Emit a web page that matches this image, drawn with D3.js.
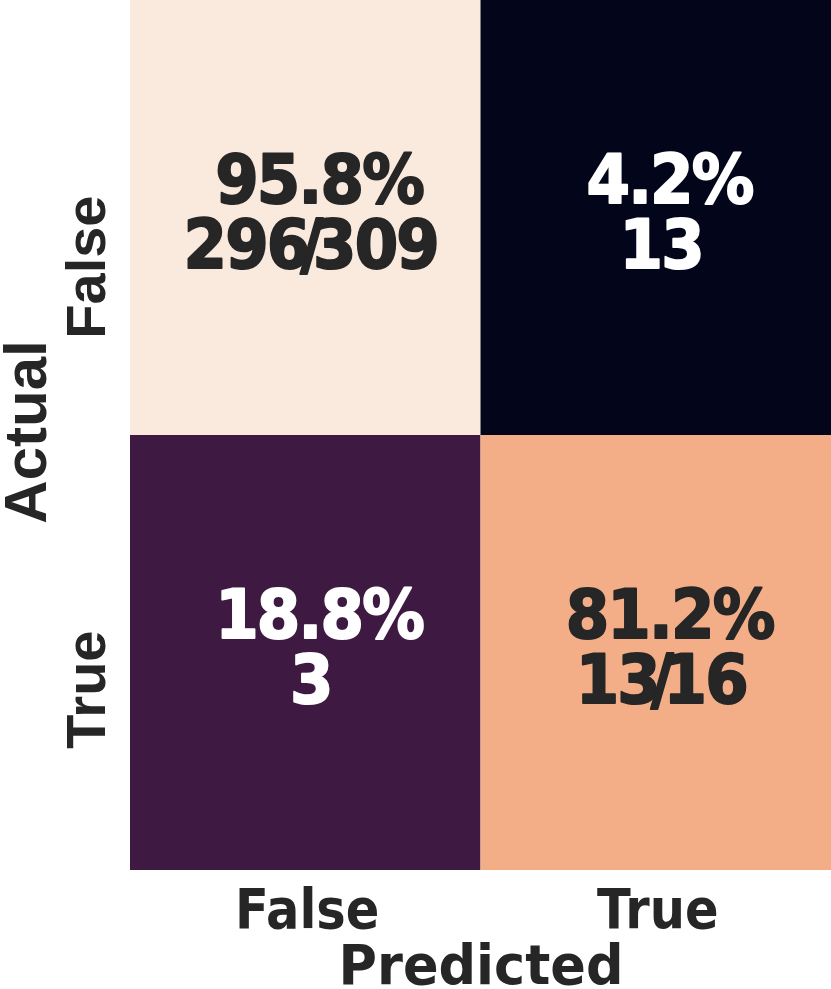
<!DOCTYPE html>
<html>
<head>
<meta charset="utf-8">
<script src="https://cdn.jsdelivr.net/npm/d3@7"></script>
<style>
  html, body { margin: 0; padding: 0; background: #ffffff; }
  svg { display: block; }
</style>
</head>
<body>
<svg id="chart" width="831" height="989"></svg>
<script>
// ---- data ----
const predictedLabels = ["False", "True"];
const actualLabels = ["False", "True"];
const counts = [[296, 13], [3, 13]];          // rows: actual, cols: predicted
const rowTotals = [309, 16];
const percentLabels = [["95.8%", "4.2%"], ["18.8%", "81.2%"]];
const countLabels = [["296/309", "13"], ["3", "13/16"]];

// ---- layout ----
const W = 831, H = 989;
const margin = { left: 130, top: 0, right: 0, bottom: 119 };
const svg = d3.select("#chart");

const x = d3.scaleBand().domain(predictedLabels).range([margin.left, W - margin.right]).padding(0);
const y = d3.scaleBand().domain(actualLabels).range([margin.top, H - margin.bottom]).padding(0);

const color = d3.scaleLinear()
  .domain([0.042, 0.188, 0.812, 0.958])
  .range(["#03051a", "#3e1a42", "#f3ae87", "#faeadd"]);

const cells = [];
actualLabels.forEach((a, i) => {
  predictedLabels.forEach((p, j) => {
    cells.push({ a, p, i, j, frac: counts[i][j] / rowTotals[i] });
  });
});

svg.append("g").selectAll("rect").data(cells).join("rect")
  .attr("x", d => x(d.p))
  .attr("y", d => y(d.a))
  .attr("width", x.bandwidth())
  .attr("height", y.bandwidth())
  .attr("fill", d => color(d.frac));

const annFont = "'DejaVu Sans', Verdana, sans-serif";
const txtColor = d => d.frac < 0.5 ? "#ffffff" : "#262626";
const ann = svg.append("g").selectAll("text").data(cells).join("text")
  .attr("transform", d => `translate(${x(d.p) + x.bandwidth() / 2},${y(d.a) + y.bandwidth() / 2}) scale(0.92,1)`)
  .attr("font-family", annFont)
  .attr("font-weight", "bold")
  .attr("font-size", 68)
  .attr("text-anchor", "middle")
  .attr("fill", txtColor)
  .attr("stroke", txtColor)
  .attr("stroke-width", 2)
  .attr("stroke-linejoin", "round");
ann.append("tspan")
  .attr("letter-spacing", "-2px")
  .attr("x", 15)
  .attr("y", -15)
  .text(d => percentLabels[d.i][d.j]);
ann.each(function (d) {
  const parts = countLabels[d.i][d.j].split("/");
  const t = d3.select(this);
  t.append("tspan")
    .attr("letter-spacing", "-2px")
    .attr("x", 6)
    .attr("y", 50)
    .text(parts[0]);
  if (parts.length > 1) {
    t.append("tspan").attr("letter-spacing", "-2px").attr("dx", -9).text("/");
    t.append("tspan").attr("letter-spacing", "-2px").attr("dx", -9).text(parts[1]);
  }
});

// x tick labels (slightly condensed)
svg.append("g").selectAll("text").data(predictedLabels).join("text")
  .attr("transform", d => `translate(${x(d) + x.bandwidth() / 2 + 2},928) scale(0.9,1)`)
  .attr("text-anchor", "middle")
  .attr("font-family", annFont)
  .attr("font-weight", "bold")
  .attr("font-size", 55)
  .attr("fill", "#262626")
  .text(d => d);

svg.append("text")
  .attr("transform", `translate(481,984) scale(0.955,1)`)
  .attr("text-anchor", "middle")
  .attr("font-family", annFont)
  .attr("font-weight", "bold")
  .attr("font-size", 55)
  .attr("fill", "#262626")
  .text("Predicted");

// y tick labels
const yFont = "'Liberation Sans', Arial, sans-serif";
svg.append("g").selectAll("text").data(actualLabels).join("text")
  .attr("transform", d => `translate(105,${y(d) + y.bandwidth() / 2 - 22}) rotate(-90)`)
  .attr("text-anchor", "end")
  .attr("font-family", yFont)
  .attr("font-weight", "bold")
  .attr("font-size", 56)
  .attr("fill", "#262626")
  .text(d => d);

svg.append("text")
  .attr("transform", `translate(46,432) rotate(-90)`)
  .attr("text-anchor", "middle")
  .attr("font-family", yFont)
  .attr("font-weight", "bold")
  .attr("font-size", 60)
  .attr("fill", "#262626")
  .text("Actual");
</script>
</body>
</html>
